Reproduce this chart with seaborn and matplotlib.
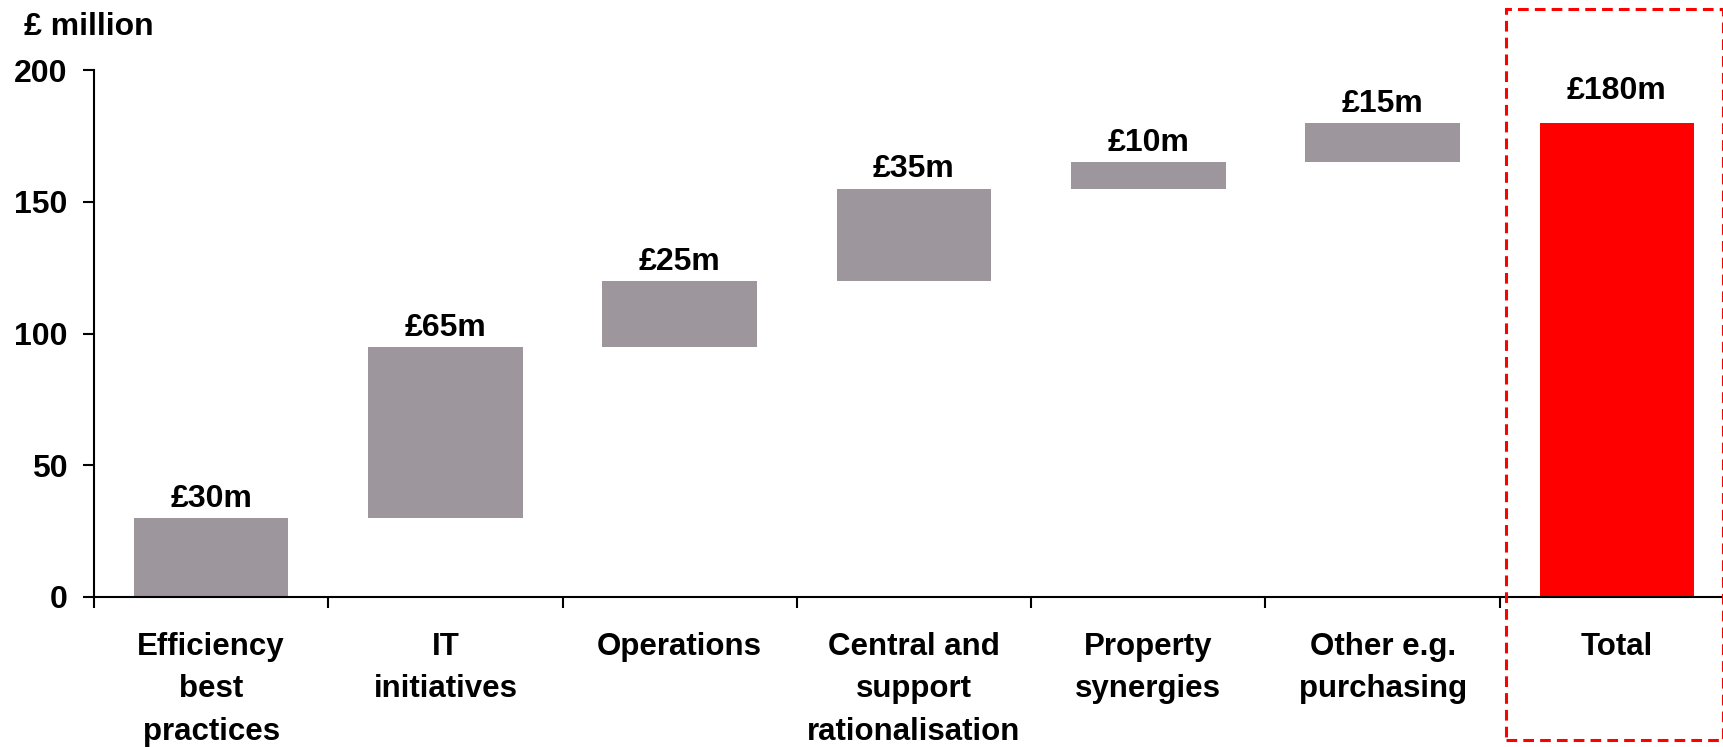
import numpy as np
import pandas as pd
import matplotlib
matplotlib.use("Agg")
import matplotlib.pyplot as plt
from matplotlib.patches import Rectangle
import seaborn as sns

# Cost-saving components (£ million) and the resulting total
categories = ["Efficiency\nbest\npractices", "IT\ninitiatives", "Operations",
              "Central and\nsupport\nrationalisation", "Property\nsynergies",
              "Other e.g.\npurchasing", "Total"]
increments = [30, 65, 25, 35, 10, 15]
total = 180
value_labels = ["£30m", "£65m", "£25m", "£35m", "£10m", "£15m", "£180m"]
y_ticks = [0, 50, 100, 150, 200]

# Floating bars: each step starts where the previous one ended
heights = increments + [total]
bottoms = list(np.concatenate([[0], np.cumsum(increments)[:-1]])) + [0]

df = pd.DataFrame({"category": categories, "height": heights, "bottom": bottoms})

sns.set_theme(style="white")
plt.rcParams["font.family"] = ["Liberation Sans", "DejaVu Sans"]
plt.rcParams["font.weight"] = "bold"
plt.rcParams["text.color"] = "black"
plt.rcParams["xtick.color"] = "black"
plt.rcParams["ytick.color"] = "black"
plt.rcParams["xtick.labelcolor"] = "black"
plt.rcParams["ytick.labelcolor"] = "black"

GREY = "#9d979d"
RED = "#ff0000"
FS = 23

fig = plt.figure(figsize=(17.24, 7.47), dpi=100)
ax = fig.add_axes([94 / 1724, 1 - 597 / 747, 1640 / 1724, 527 / 747])

sns.barplot(data=df, x="category", y="height", bottom=df["bottom"].to_numpy(),
            color=GREY, saturation=1, width=0.66, errorbar=None, ax=ax)
ax.patches[-1].set_facecolor(RED)
for p in ax.patches:
    p.set_edgecolor("none")

# Value labels above each bar; the total's label sits a little higher
n = len(heights)
for i, (h, b, lab) in enumerate(zip(heights, bottoms, value_labels)):
    offset = 12 if i == n - 1 else 3
    ax.annotate(lab, (i, b + h), xytext=(0, offset), textcoords="offset points",
                ha="center", va="bottom", fontsize=FS, fontweight="bold",
                color="black")

ax.set_ylim(0, 200)
ax.set_xlim(-0.5, len(categories) - 0.5)
ax.set_yticks(y_ticks)
ax.set_yticklabels([str(v) for v in y_ticks], fontsize=FS, fontweight="bold")

# Tick marks sit on category boundaries, labels in the middle of each category
ax.set_xticks(np.arange(len(categories) + 1) - 0.5)
ax.set_xticklabels([])
ax.set_xticks(np.arange(len(categories)), minor=True)
ax.set_xticklabels(categories, minor=True, fontsize=22.5, fontweight="bold",
                   linespacing=1.55, va="top")
ax.tick_params(axis="x", which="major", direction="out", length=8, width=1.5,
               color="black", bottom=True)
ax.tick_params(axis="x", which="minor", length=0, pad=25, bottom=True)
ax.tick_params(axis="y", direction="out", length=8, width=1.5, color="black",
               pad=11, left=True)
ax.set_xlabel("")
ax.set_ylabel("")

for side in ("top", "right"):
    ax.spines[side].set_visible(False)
for side in ("left", "bottom"):
    ax.spines[side].set_color("black")
    ax.spines[side].set_linewidth(1.5)

fig.text(24 / 1724, 1 - 35 / 747, "£ million", fontsize=FS, fontweight="bold",
         ha="left", va="baseline", color="black")

# Dashed frame around the total column
frame = Rectangle((1506 / 1724, 1 - 740 / 747), 217 / 1724, 731 / 747,
                  transform=fig.transFigure, fill=False, edgecolor=RED,
                  linewidth=2.2, linestyle=(0, (3.5, 2)), clip_on=False)
fig.add_artist(frame)

fig.savefig("out.png", dpi=100)
